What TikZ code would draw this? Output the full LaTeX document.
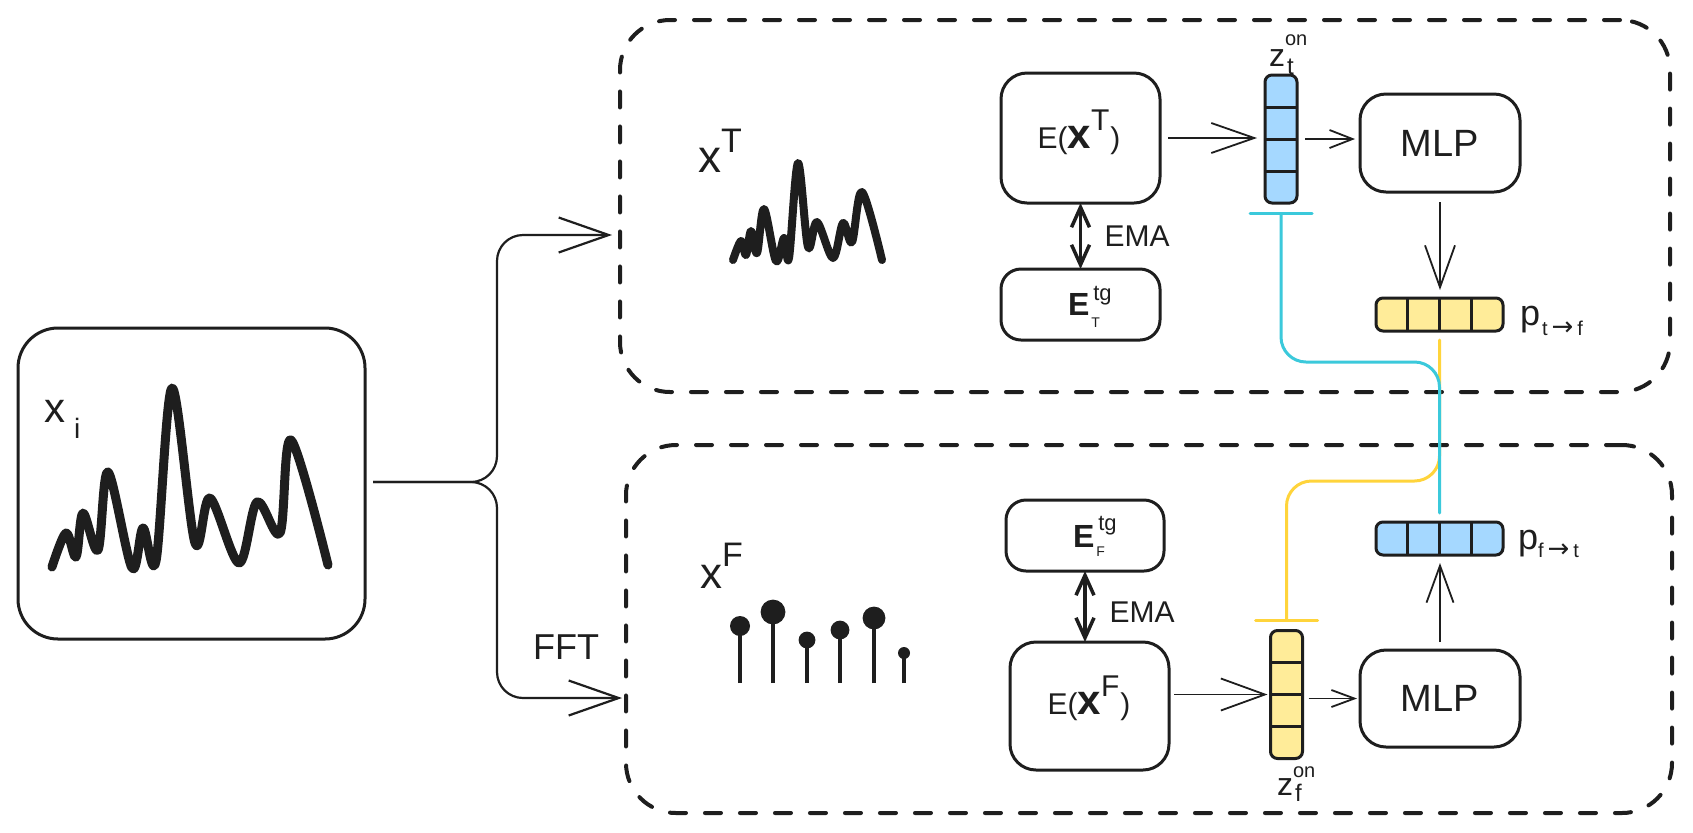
\documentclass[tikz,border=0pt]{standalone}
\usepackage{fontspec}
\setmainfont{Liberation Sans}
\newfontfamily\symfont{DejaVu Sans}
\usetikzlibrary{arrows.meta,calc}
\definecolor{ink}{HTML}{1E1E1E}
\definecolor{vblue}{HTML}{A5D8FF}
\definecolor{vyel}{HTML}{FFEC99}
\definecolor{lcyan}{HTML}{3BC9DB}
\definecolor{lyel}{HTML}{FFD43B}
\newcommand{\fsz}[1]{\fontsize{#1}{#1}\selectfont}
\newcommand{\rarr}{{\symfont →}}
\tikzset{
  every node/.style={text=ink, inner sep=0pt, outer sep=0pt},
  blk/.style={draw=ink, line width=1.5pt, rounded corners=13pt, fill=white},
  panel/.style={draw=ink, line width=2pt, dash pattern=on 8pt off 9.5pt, line cap=round, rounded corners=25pt},
  vecbase/.style={draw=ink, line width=1.5pt, rounded corners=3.5pt},
  vvert/.style={vecbase, minimum width=16pt, minimum height=64pt,
    path picture={\foreach \fr in {0.25,0.5,0.75}{\draw[ink, line width=1.5pt] ($(path picture bounding box.north west)!\fr!(path picture bounding box.south west)$) -- ($(path picture bounding box.north east)!\fr!(path picture bounding box.south east)$);}}},
  vhorz/.style={vecbase, minimum width=63.5pt, minimum height=16.5pt,
    path picture={\foreach \fr in {0.25,0.5,0.75}{\draw[ink, line width=1.5pt] ($(path picture bounding box.north west)!\fr!(path picture bounding box.north east)$) -- ($(path picture bounding box.south west)!\fr!(path picture bounding box.south east)$);}}},
  arr/.style 2 args={draw=ink, line width=0.9pt, -{Straight Barb[length=#1, width=#2]}},
  emaarr/.style={draw=ink, line width=1.75pt, {Straight Barb[length=10pt,width=9pt]}-{Straight Barb[length=10pt,width=9pt]}},
  wave/.style={draw=ink, line width=#1, line cap=round, line join=round},
  dual/.style={line width=1.5pt, rounded corners=12.5pt, line cap=round},
}
\begin{document}
\begin{tikzpicture}[x=0.5pt,y=-0.5pt]
\fill[white] (0,0) rectangle (1693,832);
\useasboundingbox (0,0) rectangle (1693,832);

% panels
\node[panel, minimum width=525pt, minimum height=186pt] (tpanel) at (1145,206) {};
\node[panel, minimum width=523pt, minimum height=184pt] (fpanel) at (1149,629) {};

% input
\node[blk, rounded corners=20pt, minimum width=173.5pt, minimum height=155.5pt] (xi) at (191.5,483.5) {};
\node[anchor=base west] (xilab) at (45,422) {\fsz{21}x\kern4pt\raisebox{-8pt}{\fsz{14}i}};
\draw[wave=4.5pt] plot[smooth, tension=0.55] coordinates {(52,567) (66,533) (76,557) (83,513) (98,550) (108,472) (132,568) (143,528) (156,561) (172,388) (195,543) (210,498) (239,563) (257,502) (280,533) (291,440) (328,565)};

% branches
\coordinate (split) at (497,482);
\coordinate (jt) at (497,235);
\coordinate (jb) at (497,698);
\draw[arr={25pt}{17.5pt}, line width=1.1pt, rounded corners=13pt, shorten <=4pt, shorten >=4pt] (xi.east |- split) -- (split) -- (jt) -- (tpanel.west |- jt);
\draw[arr={25pt}{17.5pt}, line width=1.1pt, rounded corners=13pt, shorten <=4pt, shorten >=2pt] (xi.east |- split) -- (split) -- (jb) -- (fpanel.west |- jb);
\node[font=\fsz{18}] (fft) at (566,647) {FFT};

% time view
\node[anchor=base west] (xtlab) at (698,172) {\fsz{23}x\raisebox{10pt}{\fsz{17}T}};
\draw[wave=4pt] plot[smooth, tension=0.55] coordinates {(733,260) (741,241) (746,255) (751,231) (757,253) (764,209) (776,261) (784,238) (789,258) (798,163) (808,247) (817,222) (833,258) (843,223) (852,242) (862,192) (882,260)};

% frequency view
\node[anchor=base west] (xflab) at (700,588) {\fsz{22}x\raisebox{11pt}{\fsz{17}F}};
\foreach \sx/\sy/\r in {740/626/5, 773/612/6.2, 807/640/4.2, 840/630/4.7, 874/618/5.7, 904/653/3}{
  \draw[ink, line width=2pt] (\sx,683) -- (\sx,\sy);
  \fill[ink] (\sx,\sy) circle[radius=\r pt];
}

% top branch
\node[blk, minimum width=79.5pt, minimum height=65pt] (ext) at (1080.5,138) {};
\node[anchor=base] (extlab) at (1079,148) {{\fsz{15}E(}{\fsz{21}\bfseries x}\raisebox{9pt}{\fsz{15}T}\kern0.5pt{\fsz{15})}};
\node[blk, rounded corners=10pt, minimum width=79.5pt, minimum height=35.5pt] (etg) at (1080.5,304.5) {};
\node[anchor=base west] (etglab) at (1068,315) {{\fsz{16}\bfseries E}\rlap{\kern2pt\raisebox{7.5pt}{\fsz{11}tg}}\kern1pt\raisebox{-6pt}{\fsz{7}T}};
\draw[emaarr] (ext.south) -- (etg.north);
\node[font=\fsz{15}] (ema1) at (1137,236) {EMA};
\node[vvert, fill=vblue] (zt) at (1281,139) {};
\node[anchor=base west] (ztlab) at (1269,66) {\fsz{16}z\rlap{\raisebox{10.5pt}{\fsz{10}on}}\kern1pt\raisebox{-4pt}{\fsz{12}t}};
\node[blk, minimum width=80pt, minimum height=49pt, font=\fsz{19}] (mlpt) at (1440,143) {MLP};
\node[vhorz, fill=vyel] (ptf) at (1439.5,314.5) {};
\node[anchor=base west] (ptflab) at (1520,325) {\fsz{18}p\raisebox{-5pt}{\fsz{10}\kern1pt t\kern2pt\fsz{13}\rarr\kern2pt\fsz{10}f}};

% bottom branch
\node[blk, rounded corners=10pt, minimum width=79pt, minimum height=35.5pt] (ftg) at (1085,535.5) {};
\node[anchor=base west] (ftglab) at (1073,547) {{\fsz{16}\bfseries E}\rlap{\kern2pt\raisebox{8.5pt}{\fsz{11}tg}}\kern1pt\raisebox{-4.5pt}{\fsz{7}F}};
\node[blk, minimum width=79.5pt, minimum height=64pt] (exf) at (1089.5,706) {};
\node[anchor=base] (exflab) at (1089,714) {{\fsz{15}E(}{\fsz{21}\bfseries x}\raisebox{9pt}{\fsz{15}F}\kern0.5pt{\fsz{15})}};
\draw[emaarr] (ftg.south) -- (ftg.south |- exf.north);
\node[font=\fsz{15}] (ema2) at (1142,612) {EMA};
\node[vvert, fill=vyel] (zf) at (1286.5,694.5) {};
\node[anchor=base west] (zflab) at (1277,795) {\fsz{16}z\rlap{\raisebox{9pt}{\fsz{10}on}}\kern1pt\raisebox{-3pt}{\fsz{12}f}};
\node[blk, minimum width=80pt, minimum height=48.5pt, font=\fsz{19}] (mlpb) at (1440,698.5) {MLP};
\node[vhorz, fill=vblue] (pft) at (1439.5,538.5) {};
\node[anchor=base west] (pftlab) at (1518,549) {\fsz{18}p\raisebox{-4pt}{\fsz{10}f\kern2pt\fsz{13}\rarr\kern2pt\fsz{10}t}};

% arrows
\draw[arr={21.5pt}{15pt}, shorten <=4pt, shorten >=4pt] (ext.east) -- (ext.east -| zt.west);
\draw[arr={11.5pt}{9pt}, shorten <=4pt, shorten >=2.5pt] (zt.east) -- (zt.east -| mlpt.west);
\draw[arr={21pt}{15pt}, shorten <=5pt, shorten >=4pt] (mlpt.south) -- (mlpt.south |- ptf.north);
\draw[arr={22pt}{16pt}, shorten <=2.5pt, shorten >=1.5pt] (exf.east |- zf.west) -- (zf.west);
\draw[arr={11.5pt}{8.5pt}, shorten <=3pt, shorten >=1.5pt] (zf.east |- mlpb.west) -- (mlpb.west);
\draw[arr={18.5pt}{13.5pt}, shorten <=4pt, shorten >=4pt] (mlpb.north) -- (mlpb.north |- pft.south);

% cross-view links
\coordinate (ymid) at (1360,481);
\coordinate (cmid) at (1360,362);
\draw[dual, draw=lyel, -{Bar[width=31pt, round]}, shorten <=4.5pt, shorten >=4.5pt] (ptf.south) |- (ymid) -| (zf.north);
\draw[dual, draw=lcyan, {Bar[width=31pt, round]}-, shorten <=4.5pt, shorten >=4.5pt] (zt.south) |- (cmid) -| (pft.north);
\end{tikzpicture}
\end{document}
